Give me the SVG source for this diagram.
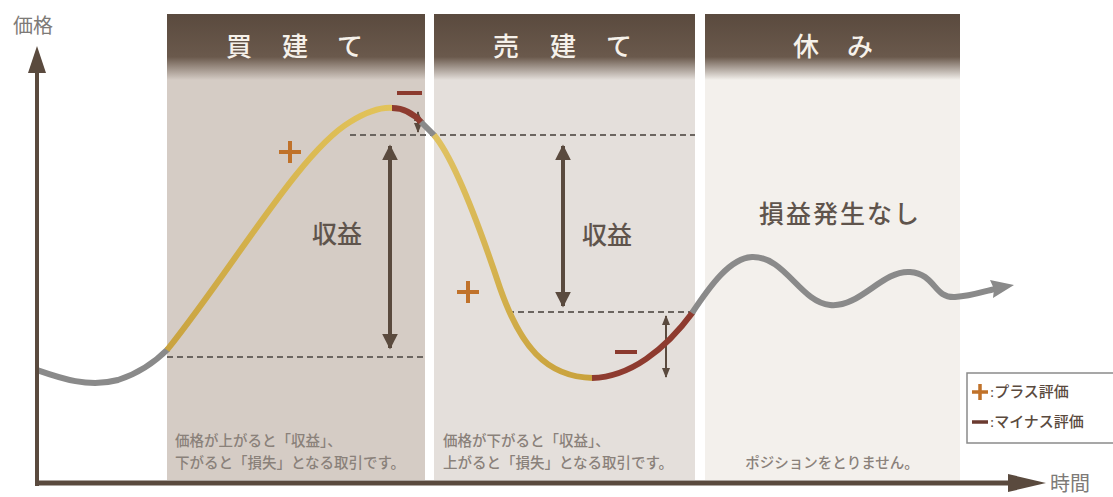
<svg xmlns="http://www.w3.org/2000/svg" width="1113" height="497" viewBox="0 0 1113 497">
<defs>
<linearGradient id="hdr1" x1="0" y1="14" x2="0" y2="80" gradientUnits="userSpaceOnUse"><stop offset="0" stop-color="#5a4a3e"/><stop offset="0.65" stop-color="#6a594c"/><stop offset="1" stop-color="#d5ccc5"/></linearGradient>
<linearGradient id="hdr2" x1="0" y1="14" x2="0" y2="80" gradientUnits="userSpaceOnUse"><stop offset="0" stop-color="#5a4a3e"/><stop offset="0.65" stop-color="#6a594c"/><stop offset="1" stop-color="#e4dfdb"/></linearGradient>
<linearGradient id="hdr3" x1="0" y1="14" x2="0" y2="80" gradientUnits="userSpaceOnUse"><stop offset="0" stop-color="#5a4a3e"/><stop offset="0.65" stop-color="#6a594c"/><stop offset="1" stop-color="#f3f0ec"/></linearGradient>
<linearGradient id="gold1" x1="167" y1="350" x2="392" y2="108" gradientUnits="userSpaceOnUse"><stop offset="0" stop-color="#c9a340"/><stop offset="1" stop-color="#e2c35a"/></linearGradient>
<linearGradient id="gold2" x1="434" y1="135" x2="592" y2="378" gradientUnits="userSpaceOnUse"><stop offset="0" stop-color="#e0c262"/><stop offset="1" stop-color="#c9a23c"/></linearGradient>
<marker id="ah" viewBox="0 0 10 10" refX="9" refY="5" markerWidth="4" markerHeight="4" orient="auto-start-reverse" markerUnits="strokeWidth"><path d="M0,0 L10,5 L0,10 z" fill="#5a4a3e"/></marker>
<marker id="ahs" viewBox="0 0 10 10" refX="9" refY="5" markerWidth="5" markerHeight="5" orient="auto-start-reverse" markerUnits="strokeWidth"><path d="M0,1 L10,5 L0,9 z" fill="#5a4a3e"/></marker>
</defs>
<style>
.hd{font-family:"Liberation Serif","Noto Sans CJK JP",serif;font-size:26px;fill:#f6f1ea;text-anchor:middle;font-weight:500}
.lbl{font-family:"Liberation Serif","Noto Sans CJK JP",serif;font-size:25px;fill:#5f544c;font-weight:500}
.note{font-family:"Liberation Serif","Noto Sans CJK JP",serif;font-size:14.5px;fill:#8a817a;font-weight:500}
.ax{font-family:"Liberation Serif","Noto Sans CJK JP",serif;font-size:20px;fill:#7d7a77}
.leg{font-family:"Liberation Serif","Noto Sans CJK JP",serif;font-size:15px;fill:#5a4a3e;font-weight:500}
.dash{stroke:#6b6560;stroke-width:2;stroke-dasharray:6 4;fill:none}
.arr{stroke:#5a4a3e;stroke-width:4;fill:none}
.crv{fill:none;stroke-width:6;stroke-linecap:butt}
.plus{stroke:#c0722a;stroke-width:4;fill:none}
.minus{stroke:#8b3a2e;stroke-width:4;fill:none}
</style>
<rect width="1113" height="497" fill="#ffffff"/>
<g id="panel-buy">
<rect x="167" y="14" width="258" height="466" fill="#d5ccc5"/>
<rect x="167" y="14" width="258" height="66" fill="url(#hdr1)"/>
<text class="hd" x="239 295 350" y="56">買建て</text>
<text class="note" x="175" y="446">価格が上がると「収益」、</text>
<text class="note" x="175" y="468">下がると「損失」となる取引です。</text>
</g>
<g id="panel-sell">
<rect x="434" y="14" width="261" height="466" fill="#e4dfdb"/>
<rect x="434" y="14" width="261" height="66" fill="url(#hdr2)"/>
<text class="hd" x="506 563 619" y="56">売建て</text>
<text class="note" x="443" y="446">価格が下がると「収益」、</text>
<text class="note" x="443" y="468">上がると「損失」となる取引です。</text>
</g>
<g id="panel-rest">
<rect x="705" y="14" width="255" height="466" fill="#f3f0ec"/>
<rect x="705" y="14" width="255" height="66" fill="url(#hdr3)"/>
<text class="hd" x="806 860" y="56">休み</text>
<text class="note" x="832" y="468" text-anchor="middle" font-size="13.5">ポジションをとりません。</text>
<text class="lbl" x="840" y="223" text-anchor="middle" font-size="28" letter-spacing="2" fill="#5f5953">損益発生なし</text>
</g>
<g id="guides">
<line class="dash" x1="350" y1="135" x2="695" y2="135"/>
<line class="dash" x1="167" y1="357" x2="425" y2="357"/>
<line class="dash" x1="508" y1="312" x2="695" y2="312"/>
</g>
<g id="connectors">
<line class="arr" x1="390" y1="146" x2="390" y2="348" marker-start="url(#ah)" marker-end="url(#ah)"/>
<line class="arr" x1="563" y1="146" x2="563" y2="306" marker-start="url(#ah)" marker-end="url(#ah)"/>
<line x1="666" y1="316" x2="666" y2="377" stroke="#5a4a3e" stroke-width="2" marker-start="url(#ahs)" marker-end="url(#ahs)"/>
<line x1="418" y1="112" x2="418" y2="132" stroke="#5a4a3e" stroke-width="2" marker-start="url(#ahs)" marker-end="url(#ahs)"/>
</g>
<g id="curve">
<path class="crv" stroke="#8a8a8a" d="M37,370 C60,378 88,388 118,380 C140,373 155,362 168,349"/>
<path class="crv" stroke="url(#gold1)" d="M167,350 C235,265 300,152 350,122 C368,111 382,107 393,108"/>
<path class="crv" stroke="#8e3b2f" d="M392,108 C404,108 414,114 422,123"/>
<path class="crv" stroke="#8a8a8a" d="M421,122 C426,127 430,131 435,136"/>
<path class="crv" stroke="url(#gold2)" d="M434,135 C455,160 480,228 500,288 C520,345 545,377 593,378"/>
<path class="crv" stroke="#8e3b2f" d="M592,378 C630,377 665,350 693,312"/>
<path class="crv" stroke="#8a8a8a" d="M692,313 C710,286 730,258 752,257 C785,256 800,302 830,305 C860,308 882,270 910,272 C936,274 933,298 955,297 C972,296 985,291 995,289"/>
<polygon points="1014,285 990,280 994,289 993,298" fill="#8a8a8a"/>
</g>
<g id="signs">
<path class="plus" d="M279,152 H301 M290,141 V163"/>
<path class="plus" d="M457,292 H479 M468,281 V303"/>
<path class="minus" d="M397,93 H422"/>
<path class="minus" d="M615,352 H637"/>
<text class="lbl" x="312" y="243">収益</text>
<text class="lbl" x="582" y="244">収益</text>
</g>
<g id="axes">
<line x1="37" y1="486" x2="37" y2="68" stroke="#5a4a3e" stroke-width="4"/>
<polygon points="37,46 28,73 46,73" fill="#5a4a3e"/>
<line x1="35" y1="483" x2="1012" y2="483" stroke="#5a4a3e" stroke-width="5"/>
<polygon points="1046,483 1008,474 1008,492" fill="#5a4a3e"/>
<text class="ax" x="13" y="33">価格</text>
<text class="ax" x="1050" y="491">時間</text>
</g>
<g id="legend">
<rect x="967" y="373" width="150" height="70" fill="#ffffff" stroke="#8a8a8a" stroke-width="1.5"/>
<path d="M972,392 H988 M980,384 V400" stroke="#c0722a" stroke-width="3.5" fill="none"/>
<text class="leg" x="990" y="397">:プラス評価</text>
<path d="M972,422 H988" stroke="#6b3a30" stroke-width="3.5" fill="none"/>
<text class="leg" x="990" y="427">:マイナス評価</text>
</g>
</svg>
